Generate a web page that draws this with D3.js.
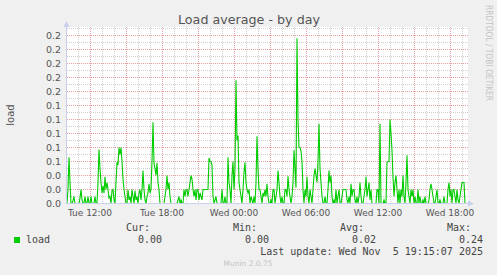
<!DOCTYPE html>
<html>
<head>
<meta charset="utf-8">
<script src="https://cdn.jsdelivr.net/npm/d3@7"></script>
<style>
  body { margin: 0; background: #f0f0f0; }
  svg { display: block; }
  text { font-family: "DejaVu Sans", sans-serif; }
  .mono { font-family: "DejaVu Sans Mono", monospace; }
</style>
</head>
<body>
<svg id="chart" width="497" height="275"></svg>
<script>
// load average samples, 5 minutes apart, starting Tue 4 Nov 10:05
var startTime = new Date(2025, 10, 4, 10, 5);
var loadValues = [
  0, 0.02, 0.066, 0.03, 0, 0, 0.004, 0.01, 0, 0,
  0, 0, 0, 0.008, 0.02, 0.005, 0, 0, 0.01, 0,
  0, 0.01, 0, 0, 0.01, 0, 0, 0, 0.01, 0,
  0, 0.03, 0.077, 0.05, 0.03, 0.015, 0.025, 0.015, 0.038, 0.02,
  0.03, 0.02, 0.008, 0.01, 0, 0.019, 0.02, 0.005, 0, 0.03,
  0.059, 0.055, 0.08, 0.07, 0.08, 0.06, 0.035, 0.02, 0.01, 0,
  0, 0.02, 0.005, 0.01, 0, 0.02, 0.01, 0, 0.018, 0.005,
  0.01, 0, 0.015, 0.02, 0.005, 0.02, 0.047, 0.02, 0.005, 0,
  0.01, 0.015, 0.028, 0.015, 0.02, 0.06, 0.116, 0.058, 0.05, 0.04,
  0.058, 0.03, 0.02, 0, 0, 0, 0, 0, 0.01, 0.02,
  0.04, 0.02, 0.03, 0.01, 0, 0, 0, 0, 0, 0,
  0, 0.005, 0.01, 0, 0.005, 0, 0, 0.02, 0.01, 0.02,
  0.02, 0.01, 0.02, 0.03, 0.04, 0.035, 0.02, 0.01, 0.02, 0.005,
  0.02, 0.02, 0.005, 0.015, 0.01, 0.005, 0.02, 0.02, 0.02, 0.02,
  0.02, 0.02, 0.065, 0.06, 0.06, 0.055, 0.01, 0, 0.005, 0.01,
  0, 0, 0, 0, 0, 0.02, 0, 0, 0.01, 0,
  0, 0.066, 0.03, 0.02, 0, 0.04, 0.06, 0.02, 0.05, 0.176,
  0.09, 0.097, 0.03, 0.02, 0.01, 0, 0.02, 0.045, 0.059, 0.03,
  0.02, 0.015, 0.02, 0, 0.01, 0.005, 0, 0.01, 0, 0.03,
  0.096, 0.05, 0.02, 0.02, 0.01, 0, 0.015, 0.01, 0.02, 0.01,
  0.028, 0.01, 0, 0, 0.005, 0, 0.02, 0.02, 0, 0.01,
  0.02, 0.047, 0.03, 0.01, 0, 0.01, 0, 0, 0.02, 0.02,
  0.01, 0.039, 0.02, 0.01, 0, 0.01, 0.03, 0.076, 0.05, 0.023,
  0.236, 0.12, 0.08, 0.08, 0.075, 0.06, 0.02, 0, 0.02, 0.01,
  0.038, 0.01, 0, 0.02, 0.01, 0, 0.02, 0.04, 0.05, 0.04,
  0.03, 0.06, 0.114, 0.05, 0.03, 0.01, 0, 0, 0.01, 0,
  0, 0.02, 0.047, 0.03, 0.04, 0.01, 0, 0.005, 0, 0.02,
  0, 0.01, 0.02, 0, 0, 0.01, 0.02, 0.02, 0.02, 0.02,
  0.005, 0, 0.01, 0, 0.028, 0.01, 0.02, 0.02, 0.005, 0,
  0.01, 0, 0.01, 0.03, 0.01, 0, 0, 0.01, 0.02, 0.038,
  0.01, 0.02, 0.03, 0.005, 0.02, 0, 0, 0, 0, 0,
  0.02, 0.02, 0, 0.114, 0, 0, 0, 0.005, 0, 0,
  0.059, 0.06, 0.06, 0.12, 0.1, 0.076, 0.038, 0.01, 0.03, 0.04,
  0.02, 0, 0.02, 0, 0.02, 0.01, 0.04, 0.01, 0, 0.03,
  0.069, 0.02, 0.01, 0, 0.02, 0.01, 0.02, 0, 0.01, 0,
  0, 0.02, 0, 0.01, 0, 0, 0.005, 0, 0.01, 0,
  0, 0, 0.005, 0.02, 0.028, 0.02, 0.01, 0, 0, 0.01,
  0.02, 0, 0, 0.005, 0, 0, 0, 0.01, 0, 0,
  0, 0.02, 0.03, 0.01, 0.02, 0, 0.02, 0.02, 0.01, 0,
  0.02, 0.005, 0, 0.01, 0.02, 0.03, 0.03, 0.03, 0, 0
];

var yTicks = [0, 0.02, 0.04, 0.06, 0.08, 0.10, 0.12, 0.14, 0.16, 0.18, 0.20, 0.22, 0.24];
var yTickLabels = ["0.0", "0.0", "0.0", "0.1", "0.1", "0.1", "0.1", "0.1", "0.2", "0.2", "0.2", "0.2", "0.2"];
var xTickLabels = ["Tue 12:00", "Tue 18:00", "Wed 00:00", "Wed 06:00", "Wed 12:00", "Wed 18:00"];
var legendHeads = ["Cur:", "Min:", "Avg:", "Max:"];
var legendStats = ["0.00", "0.00", "0.02", "0.24"];

var lineColor = "#00cc00";

var data = loadValues.map(function(v, i){
    return {t: new Date(startTime.getTime() + i * 300000), v: v};
});

var svg = d3.select("#chart");

var x = d3.scaleTime()
    .domain([new Date(2025, 10, 4, 10, 2, 30), new Date(2025, 10, 5, 19, 27, 30)])
    .range([66.5, 467.5]);
var y = d3.scaleLinear()
    .domain([0, 176 / 700])
    .range([203.5, 27.5]);

// plot canvas
svg.append("rect")
    .attr("x", 67).attr("y", 27)
    .attr("width", 401).attr("height", 176)
    .attr("fill", "#ffffff");

var grid = svg.append("g");

// minor horizontal grid every 0.01
var minorY = d3.range(1, 26).map(function(k){ return k * 0.01; });
grid.selectAll("line.hminor")
    .data(minorY.filter(function(v){ return Math.round(v * 100) % 2 == 1 || v > 0.245; }))
    .enter().append("line")
    .attr("x1", 67).attr("x2", 468)
    .attr("y1", function(d){ return y(d); })
    .attr("y2", function(d){ return y(d); })
    .attr("stroke", "#cfcfcf")
    .attr("stroke-dasharray", "1,1");

// minor vertical grid every hour
var hours = d3.timeHour.every(1).range(x.domain()[0], x.domain()[1]);
grid.selectAll("line.vminor")
    .data(hours.filter(function(d){ return d.getHours() % 3 != 0; }))
    .enter().append("line")
    .attr("x1", function(d){ return Math.round(x(d)) + 0.5; })
    .attr("x2", function(d){ return Math.round(x(d)) + 0.5; })
    .attr("y1", 27).attr("y2", 203)
    .attr("stroke", "#cfcfcf")
    .attr("stroke-dasharray", "1,1");

// major grid
grid.selectAll("line.hmajor")
    .data(yTicks.slice(1))
    .enter().append("line")
    .attr("x1", 67).attr("x2", 468)
    .attr("y1", function(d){ return y(d); })
    .attr("y2", function(d){ return y(d); })
    .attr("stroke", "#e6a0a0")
    .attr("stroke-dasharray", "1,1");

grid.selectAll("line.vmajor")
    .data(hours.filter(function(d){ return d.getHours() % 3 == 0; }))
    .enter().append("line")
    .attr("x1", function(d){ return Math.round(x(d)) + 0.5; })
    .attr("x2", function(d){ return Math.round(x(d)) + 0.5; })
    .attr("y1", 27).attr("y2", 203)
    .attr("stroke", "#e6a0a0")
    .attr("stroke-dasharray", "1,1");

// y tick labels
svg.selectAll("text.ylab")
    .data(yTicks)
    .enter().append("text")
    .attr("x", 61)
    .attr("y", function(d){ return y(d) + 3; })
    .attr("text-anchor", "end")
    .attr("font-size", "9.5px")
    .attr("fill", "#555")
    .text(function(d, i){ return yTickLabels[i]; });

// x tick labels
var labelTimes = hours.filter(function(d){ return d.getHours() % 6 == 0; });
svg.selectAll("text.xlab")
    .data(labelTimes)
    .enter().append("text")
    .attr("x", function(d){ return x(d); })
    .attr("y", 216)
    .attr("text-anchor", "middle")
    .attr("font-size", "9px")
    .attr("fill", "#555")
    .text(function(d, i){ return xTickLabels[i]; });

// the series
var line = d3.line()
    .x(function(d){ return x(d.t); })
    .y(function(d){ return y(d.v); });

svg.append("path")
    .datum(data)
    .attr("d", line)
    .attr("fill", "none")
    .attr("stroke", lineColor)
    .attr("stroke-width", 1.1);

// axes with arrows
svg.append("line")
    .attr("x1", 66.5).attr("x2", 66.5)
    .attr("y1", 203).attr("y2", 24)
    .attr("stroke", "#c8d0ee");
svg.append("path")
    .attr("d", "M63.5,27 L69.5,27 L66.5,21 Z")
    .attr("fill", "#c8d0ee");
svg.append("line")
    .attr("x1", 66).attr("x2", 471)
    .attr("y1", 203.5).attr("y2", 203.5)
    .attr("stroke", "#c8d0ee");
svg.append("path")
    .attr("d", "M468,200.5 L468,206.5 L474,203.5 Z")
    .attr("fill", "#c8d0ee");

// title and side texts
svg.append("text")
    .attr("x", 249).attr("y", 24)
    .attr("text-anchor", "middle")
    .attr("font-size", "12.7px")
    .attr("fill", "#555")
    .text("Load average - by day");

svg.append("text")
    .attr("transform", "translate(14,115) rotate(-90)")
    .attr("text-anchor", "middle")
    .attr("font-size", "10px")
    .attr("fill", "#555")
    .text("load");

svg.append("text")
    .attr("transform", "translate(485.5,5) rotate(90)")
    .attr("font-size", "8px")
    .attr("fill", "#c4c4c4")
    .attr("textLength", 96)
    .attr("lengthAdjust", "spacingAndGlyphs")
    .text("RRDTOOL / TOBI OETIKER");

// legend
svg.append("rect")
    .attr("x", 14).attr("y", 237)
    .attr("width", 6).attr("height", 6)
    .attr("fill", lineColor);
svg.append("text")
    .attr("class", "mono")
    .attr("x", 26).attr("y", 243)
    .attr("font-size", "10px")
    .attr("fill", "#444")
    .text("load");

var colRight = [162, 269, 376, 483];
svg.selectAll("text.head")
    .data(legendHeads)
    .enter().append("text")
    .attr("class", "mono")
    .attr("x", function(d, i){ return colRight[i] - 12; })
    .attr("y", 231)
    .attr("text-anchor", "end")
    .attr("font-size", "10px")
    .attr("fill", "#444")
    .text(function(d){ return d; });
svg.selectAll("text.stat")
    .data(legendStats)
    .enter().append("text")
    .attr("class", "mono")
    .attr("x", function(d, i){ return colRight[i]; })
    .attr("y", 243)
    .attr("text-anchor", "end")
    .attr("font-size", "10px")
    .attr("fill", "#444")
    .text(function(d){ return d; });

svg.append("text")
    .attr("class", "mono")
    .attr("x", 483).attr("y", 255)
    .attr("text-anchor", "end")
    .attr("font-size", "10px")
    .attr("fill", "#444")
    .attr("xml:space", "preserve")
    .style("white-space", "pre")
    .text("Last update: Wed Nov  5 19:15:07 2025");

svg.append("text")
    .attr("x", 248).attr("y", 266)
    .attr("text-anchor", "middle")
    .attr("font-size", "7.5px")
    .attr("fill", "#c4c4c4")
    .text("Munin 2.0.75");
</script>
</body>
</html>
